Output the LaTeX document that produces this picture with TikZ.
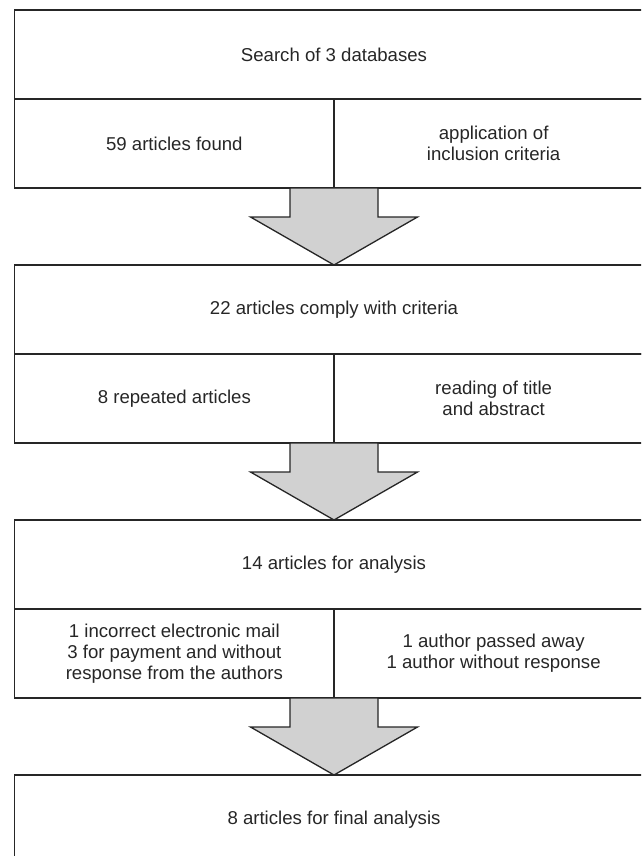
\documentclass[tikz,border=0pt]{standalone}
\usepackage{fontspec}
\setmainfont{Liberation Sans}
\usepackage{tikz}
\usetikzlibrary{positioning,calc}

\begin{document}
\begin{tikzpicture}[
  x=1pt, y=1pt,
  font=\fontsize{18.6}{21.2}\selectfont,
  node distance=77pt,
  wide/.style={draw=black!85, line width=1.3pt, minimum width=638.6pt, minimum height=89pt, inner sep=0pt, outer sep=0pt, align=center, text=black!85},
  half/.style={wide, minimum width=319.3pt},
  bigarr/.style={draw=black!85, line width=1.3pt, fill=black!18, line join=miter},
]
\clip (0,0) rectangle (641,-856);
\node[wide] (search) at (334,-54.5) {Search of 3 databases};
\node[half, below right=0pt and 0pt of search.south west] (found) {59 articles found};
\node[half, right=0pt of found] (incl) {application of\\inclusion criteria};
\node[wide, below=of found.south east] (comply) {22 articles comply with criteria};
\node[half, below right=0pt and 0pt of comply.south west] (rep) {8 repeated articles};
\node[half, right=0pt of rep] (title) {reading of title\\and abstract};
\node[wide, below=of rep.south east] (anal) {14 articles for analysis};
\node[half, below right=0pt and 0pt of anal.south west] (mail) {1 incorrect electronic mail\\3 for payment and without\\response from the authors};
\node[half, right=0pt of mail] (away) {1 author passed away\\1 author without response};
\node[wide, below=of mail.south east] (final) {8 articles for final analysis};
% block arrows between the tiers
\draw[bigarr] ($(found.south east)+(-44,0)$) -- ++(0,-29) -- ++(-39.5,0) -- (comply.north) -- ($(found.south east)+(83.5,-29)$) -- ++(-39.5,0) -- ++(0,29) -- cycle;
\draw[bigarr] ($(rep.south east)+(-44,0)$) -- ++(0,-29) -- ++(-39.5,0) -- (anal.north) -- ($(rep.south east)+(83.5,-29)$) -- ++(-39.5,0) -- ++(0,29) -- cycle;
\draw[bigarr] ($(mail.south east)+(-44,0)$) -- ++(0,-29) -- ++(-39.5,0) -- (final.north) -- ($(mail.south east)+(83.5,-29)$) -- ++(-39.5,0) -- ++(0,29) -- cycle;
\end{tikzpicture}
\end{document}
